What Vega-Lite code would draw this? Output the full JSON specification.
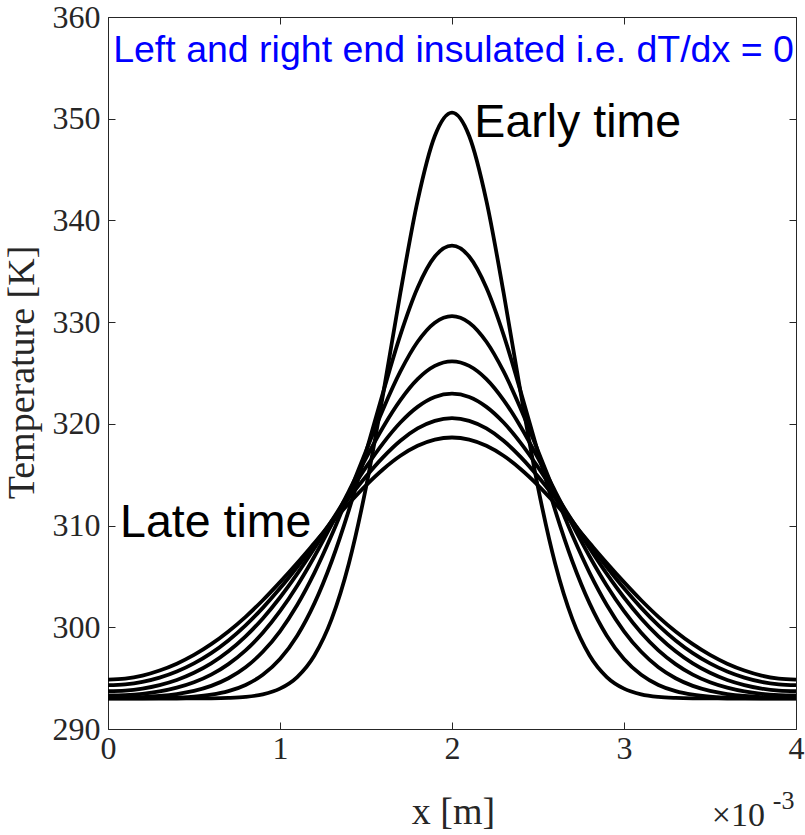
{
  "$schema": "https://vega.github.io/schema/vega-lite/v6.json",
  "width": 688,
  "height": 712,
  "autosize": {"type": "none"},
  "padding": {"left": 108, "top": 17, "right": 9, "bottom": 106},
  "background": "white",
  "config": {
    "view": {"stroke": "#262626", "strokeWidth": 1},
    "axis": {
      "domain": false,
      "grid": false,
      "tickColor": "#262626",
      "tickSize": -7,
      "tickWidth": 1,
      "labelColor": "#262626",
      "labelFont": "Liberation Serif",
      "labelFontSize": 32,
      "labelFlush": false,
      "labelOverlap": false,
      "titleColor": "#262626",
      "titleFont": "Liberation Serif",
      "titleFontSize": 38,
      "titleFontWeight": "normal"
    }
  },
  "datasets": {
    "curves": [
      {"c":0,"x":0.0,"T":293.00},{"c":0,"x":0.1,"T":293.00},{"c":0,"x":0.2,"T":293.00},{"c":0,"x":0.3,"T":293.00},{"c":0,"x":0.4,"T":293.00},{"c":0,"x":0.5,"T":293.01},{"c":0,"x":0.6,"T":293.02},{"c":0,"x":0.7,"T":293.06},{"c":0,"x":0.8,"T":293.16},{"c":0,"x":0.9,"T":293.41},{"c":0,"x":1.0,"T":293.97},{"c":0,"x":1.1,"T":295.11},{"c":0,"x":1.2,"T":297.23},{"c":0,"x":1.3,"T":300.80},{"c":0,"x":1.4,"T":306.25},{"c":0,"x":1.5,"T":313.76},{"c":0,"x":1.6,"T":322.98},{"c":0,"x":1.7,"T":332.89},{"c":0,"x":1.8,"T":341.93},{"c":0,"x":1.9,"T":348.30},{"c":0,"x":2.0,"T":350.60},
      {"c":0,"x":2.1,"T":348.30},{"c":0,"x":2.2,"T":341.93},{"c":0,"x":2.3,"T":332.89},{"c":0,"x":2.4,"T":322.98},{"c":0,"x":2.5,"T":313.76},{"c":0,"x":2.6,"T":306.25},{"c":0,"x":2.7,"T":300.80},{"c":0,"x":2.8,"T":297.23},{"c":0,"x":2.9,"T":295.11},{"c":0,"x":3.0,"T":293.97},{"c":0,"x":3.1,"T":293.41},{"c":0,"x":3.2,"T":293.16},{"c":0,"x":3.3,"T":293.06},{"c":0,"x":3.4,"T":293.02},{"c":0,"x":3.5,"T":293.01},{"c":0,"x":3.6,"T":293.00},{"c":0,"x":3.7,"T":293.00},{"c":0,"x":3.8,"T":293.00},{"c":0,"x":3.9,"T":293.00},{"c":0,"x":4.0,"T":293.00},

      {"c":1,"x":0.0,"T":293.01},{"c":1,"x":0.1,"T":293.01},{"c":1,"x":0.2,"T":293.02},{"c":1,"x":0.3,"T":293.04},{"c":1,"x":0.4,"T":293.09},{"c":1,"x":0.5,"T":293.18},{"c":1,"x":0.6,"T":293.37},{"c":1,"x":0.7,"T":293.72},{"c":1,"x":0.8,"T":294.33},{"c":1,"x":0.9,"T":295.33},{"c":1,"x":1.0,"T":296.88},{"c":1,"x":1.1,"T":299.17},{"c":1,"x":1.2,"T":302.35},{"c":1,"x":1.3,"T":306.47},{"c":1,"x":1.4,"T":311.50},{"c":1,"x":1.5,"T":317.20},{"c":1,"x":1.6,"T":323.13},{"c":1,"x":1.7,"T":328.75},{"c":1,"x":1.8,"T":333.38},{"c":1,"x":1.9,"T":336.45},{"c":1,"x":2.0,"T":337.52},
      {"c":1,"x":2.1,"T":336.45},{"c":1,"x":2.2,"T":333.38},{"c":1,"x":2.3,"T":328.75},{"c":1,"x":2.4,"T":323.13},{"c":1,"x":2.5,"T":317.20},{"c":1,"x":2.6,"T":311.50},{"c":1,"x":2.7,"T":306.47},{"c":1,"x":2.8,"T":302.35},{"c":1,"x":2.9,"T":299.17},{"c":1,"x":3.0,"T":296.88},{"c":1,"x":3.1,"T":295.33},{"c":1,"x":3.2,"T":294.33},{"c":1,"x":3.3,"T":293.72},{"c":1,"x":3.4,"T":293.37},{"c":1,"x":3.5,"T":293.18},{"c":1,"x":3.6,"T":293.09},{"c":1,"x":3.7,"T":293.04},{"c":1,"x":3.8,"T":293.02},{"c":1,"x":3.9,"T":293.01},{"c":1,"x":4.0,"T":293.01},

      {"c":2,"x":0.0,"T":293.07},{"c":2,"x":0.1,"T":293.09},{"c":2,"x":0.2,"T":293.14},{"c":2,"x":0.3,"T":293.25},{"c":2,"x":0.4,"T":293.44},{"c":2,"x":0.5,"T":293.75},{"c":2,"x":0.6,"T":294.24},{"c":2,"x":0.7,"T":294.99},{"c":2,"x":0.8,"T":296.07},{"c":2,"x":0.9,"T":297.59},{"c":2,"x":1.0,"T":299.61},{"c":2,"x":1.1,"T":302.19},{"c":2,"x":1.2,"T":305.35},{"c":2,"x":1.3,"T":309.04},{"c":2,"x":1.4,"T":313.10},{"c":2,"x":1.5,"T":317.34},{"c":2,"x":1.6,"T":321.47},{"c":2,"x":1.7,"T":325.15},{"c":2,"x":1.8,"T":328.07},{"c":2,"x":1.9,"T":329.95},{"c":2,"x":2.0,"T":330.60},
      {"c":2,"x":2.1,"T":329.95},{"c":2,"x":2.2,"T":328.07},{"c":2,"x":2.3,"T":325.15},{"c":2,"x":2.4,"T":321.47},{"c":2,"x":2.5,"T":317.34},{"c":2,"x":2.6,"T":313.10},{"c":2,"x":2.7,"T":309.04},{"c":2,"x":2.8,"T":305.35},{"c":2,"x":2.9,"T":302.19},{"c":2,"x":3.0,"T":299.61},{"c":2,"x":3.1,"T":297.59},{"c":2,"x":3.2,"T":296.07},{"c":2,"x":3.3,"T":294.99},{"c":2,"x":3.4,"T":294.24},{"c":2,"x":3.5,"T":293.75},{"c":2,"x":3.6,"T":293.44},{"c":2,"x":3.7,"T":293.25},{"c":2,"x":3.8,"T":293.14},{"c":2,"x":3.9,"T":293.09},{"c":2,"x":4.0,"T":293.07},

      {"c":3,"x":0.0,"T":293.30},{"c":3,"x":0.1,"T":293.34},{"c":3,"x":0.2,"T":293.46},{"c":3,"x":0.3,"T":293.69},{"c":3,"x":0.4,"T":294.06},{"c":3,"x":0.5,"T":294.59},{"c":3,"x":0.6,"T":295.34},{"c":3,"x":0.7,"T":296.38},{"c":3,"x":0.8,"T":297.73},{"c":3,"x":0.9,"T":299.46},{"c":3,"x":1.0,"T":301.58},{"c":3,"x":1.1,"T":304.09},{"c":3,"x":1.2,"T":306.96},{"c":3,"x":1.3,"T":310.09},{"c":3,"x":1.4,"T":313.37},{"c":3,"x":1.5,"T":316.64},{"c":3,"x":1.6,"T":319.70},{"c":3,"x":1.7,"T":322.34},{"c":3,"x":1.8,"T":324.40},{"c":3,"x":1.9,"T":325.70},{"c":3,"x":2.0,"T":326.14},
      {"c":3,"x":2.1,"T":325.70},{"c":3,"x":2.2,"T":324.40},{"c":3,"x":2.3,"T":322.34},{"c":3,"x":2.4,"T":319.70},{"c":3,"x":2.5,"T":316.64},{"c":3,"x":2.6,"T":313.37},{"c":3,"x":2.7,"T":310.09},{"c":3,"x":2.8,"T":306.96},{"c":3,"x":2.9,"T":304.09},{"c":3,"x":3.0,"T":301.58},{"c":3,"x":3.1,"T":299.46},{"c":3,"x":3.2,"T":297.73},{"c":3,"x":3.3,"T":296.38},{"c":3,"x":3.4,"T":295.34},{"c":3,"x":3.5,"T":294.59},{"c":3,"x":3.6,"T":294.06},{"c":3,"x":3.7,"T":293.69},{"c":3,"x":3.8,"T":293.46},{"c":3,"x":3.9,"T":293.34},{"c":3,"x":4.0,"T":293.30},

      {"c":4,"x":0.0,"T":293.72},{"c":4,"x":0.1,"T":293.78},{"c":4,"x":0.2,"T":293.98},{"c":4,"x":0.3,"T":294.32},{"c":4,"x":0.4,"T":294.82},{"c":4,"x":0.5,"T":295.53},{"c":4,"x":0.6,"T":296.45},{"c":4,"x":0.7,"T":297.64},{"c":4,"x":0.8,"T":299.11},{"c":4,"x":0.9,"T":300.87},{"c":4,"x":1.0,"T":302.93},{"c":4,"x":1.1,"T":305.25},{"c":4,"x":1.2,"T":307.78},{"c":4,"x":1.3,"T":310.44},{"c":4,"x":1.4,"T":313.13},{"c":4,"x":1.5,"T":315.74},{"c":4,"x":1.6,"T":318.11},{"c":4,"x":1.7,"T":320.13},{"c":4,"x":1.8,"T":321.67},{"c":4,"x":1.9,"T":322.64},{"c":4,"x":2.0,"T":322.97},
      {"c":4,"x":2.1,"T":322.64},{"c":4,"x":2.2,"T":321.67},{"c":4,"x":2.3,"T":320.13},{"c":4,"x":2.4,"T":318.11},{"c":4,"x":2.5,"T":315.74},{"c":4,"x":2.6,"T":313.13},{"c":4,"x":2.7,"T":310.44},{"c":4,"x":2.8,"T":307.78},{"c":4,"x":2.9,"T":305.25},{"c":4,"x":3.0,"T":302.93},{"c":4,"x":3.1,"T":300.87},{"c":4,"x":3.2,"T":299.11},{"c":4,"x":3.3,"T":297.64},{"c":4,"x":3.4,"T":296.45},{"c":4,"x":3.5,"T":295.53},{"c":4,"x":3.6,"T":294.82},{"c":4,"x":3.7,"T":294.32},{"c":4,"x":3.8,"T":293.98},{"c":4,"x":3.9,"T":293.78},{"c":4,"x":4.0,"T":293.72},

      {"c":5,"x":0.0,"T":294.31},{"c":5,"x":0.1,"T":294.39},{"c":5,"x":0.2,"T":294.63},{"c":5,"x":0.3,"T":295.05},{"c":5,"x":0.4,"T":295.65},{"c":5,"x":0.5,"T":296.45},{"c":5,"x":0.6,"T":297.46},{"c":5,"x":0.7,"T":298.71},{"c":5,"x":0.8,"T":300.19},{"c":5,"x":0.9,"T":301.91},{"c":5,"x":1.0,"T":303.83},{"c":5,"x":1.1,"T":305.93},{"c":5,"x":1.2,"T":308.15},{"c":5,"x":1.3,"T":310.43},{"c":5,"x":1.4,"T":312.69},{"c":5,"x":1.5,"T":314.82},{"c":5,"x":1.6,"T":316.73},{"c":5,"x":1.7,"T":318.34},{"c":5,"x":1.8,"T":319.55},{"c":5,"x":1.9,"T":320.30},{"c":5,"x":2.0,"T":320.56},
      {"c":5,"x":2.1,"T":320.30},{"c":5,"x":2.2,"T":319.55},{"c":5,"x":2.3,"T":318.34},{"c":5,"x":2.4,"T":316.73},{"c":5,"x":2.5,"T":314.82},{"c":5,"x":2.6,"T":312.69},{"c":5,"x":2.7,"T":310.43},{"c":5,"x":2.8,"T":308.15},{"c":5,"x":2.9,"T":305.93},{"c":5,"x":3.0,"T":303.83},{"c":5,"x":3.1,"T":301.91},{"c":5,"x":3.2,"T":300.19},{"c":5,"x":3.3,"T":298.71},{"c":5,"x":3.4,"T":297.46},{"c":5,"x":3.5,"T":296.45},{"c":5,"x":3.6,"T":295.65},{"c":5,"x":3.7,"T":295.05},{"c":5,"x":3.8,"T":294.63},{"c":5,"x":3.9,"T":294.39},{"c":5,"x":4.0,"T":294.31},

      {"c":6,"x":0.0,"T":294.85},{"c":6,"x":0.1,"T":294.95},{"c":6,"x":0.2,"T":295.25},{"c":6,"x":0.3,"T":295.75},{"c":6,"x":0.4,"T":296.42},{"c":6,"x":0.5,"T":297.28},{"c":6,"x":0.6,"T":298.34},{"c":6,"x":0.7,"T":299.59},{"c":6,"x":0.8,"T":301.03},{"c":6,"x":0.9,"T":302.66},{"c":6,"x":1.0,"T":304.44},{"c":6,"x":1.1,"T":306.32},{"c":6,"x":1.2,"T":308.28},{"c":6,"x":1.3,"T":310.26},{"c":6,"x":1.4,"T":312.17},{"c":6,"x":1.5,"T":313.96},{"c":6,"x":1.6,"T":315.54},{"c":6,"x":1.7,"T":316.86},{"c":6,"x":1.8,"T":317.84},{"c":6,"x":1.9,"T":318.45},{"c":6,"x":2.0,"T":318.66},
      {"c":6,"x":2.1,"T":318.45},{"c":6,"x":2.2,"T":317.84},{"c":6,"x":2.3,"T":316.86},{"c":6,"x":2.4,"T":315.54},{"c":6,"x":2.5,"T":313.96},{"c":6,"x":2.6,"T":312.17},{"c":6,"x":2.7,"T":310.26},{"c":6,"x":2.8,"T":308.28},{"c":6,"x":2.9,"T":306.32},{"c":6,"x":3.0,"T":304.44},{"c":6,"x":3.1,"T":302.66},{"c":6,"x":3.2,"T":301.03},{"c":6,"x":3.3,"T":299.59},{"c":6,"x":3.4,"T":298.34},{"c":6,"x":3.5,"T":297.28},{"c":6,"x":3.6,"T":296.42},{"c":6,"x":3.7,"T":295.75},{"c":6,"x":3.8,"T":295.25},{"c":6,"x":3.9,"T":294.95},{"c":6,"x":4.0,"T":294.85}
    ]
  },
  "layer": [
    {
      "data": {"name": "curves"},
      "mark": {"type": "line", "color": "black", "strokeWidth": 3.8, "interpolate": "monotone", "clip": true},
      "encoding": {
        "x": {
          "field": "x", "type": "quantitative",
          "scale": {"domain": [0, 4], "nice": false, "zero": false},
          "axis": {
            "orient": "bottom", "values": [0, 1, 2, 3, 4], "format": "d",
            "labelPadding": 11,
            "title": "x [m]", "titleX": 345, "titleY": 94, "titleBaseline": "alphabetic", "titleAlign": "center", "titleAnchor": null
          }
        },
        "y": {
          "field": "T", "type": "quantitative",
          "scale": {"domain": [290, 360], "nice": false, "zero": false},
          "axis": {
            "orient": "left", "values": [290, 300, 310, 320, 330, 340, 350, 360], "format": "d",
            "labelPadding": 15,
            "title": "Temperature [K]", "titleX": -86, "titleY": 355, "titleAngle": 270, "titleBaseline": "middle", "titleAlign": "center", "titleAnchor": null
          }
        },
        "detail": {"field": "c", "type": "nominal"}
      }
    },
    {
      "data": {"name": "curves"},
      "mark": {"type": "point", "opacity": 0},
      "encoding": {
        "x": {
          "field": "x", "type": "quantitative",
          "axis": {"orient": "top", "values": [0, 1, 2, 3, 4], "labels": false, "title": null}
        },
        "y": {
          "field": "T", "type": "quantitative",
          "axis": {"orient": "right", "values": [290, 300, 310, 320, 330, 340, 350, 360], "labels": false, "title": null}
        }
      }
    },
    {
      "data": {"values": [{"label": "Left and right end insulated i.e. dT/dx = 0", "x": 0.03, "T": 355.6}]},
      "mark": {"type": "text", "font": "Liberation Sans", "fontSize": 37.5, "color": "#0000FF", "align": "left", "baseline": "alphabetic"},
      "encoding": {
        "x": {"field": "x", "type": "quantitative", "axis": null},
        "y": {"field": "T", "type": "quantitative", "axis": null},
        "text": {"field": "label"}
      }
    },
    {
      "data": {"values": [{"label": "Early time", "x": 2.13, "T": 348.2}, {"label": "Late time", "x": 0.07, "T": 308.88}]},
      "mark": {"type": "text", "font": "Liberation Sans", "fontSize": 46.5, "color": "black", "align": "left", "baseline": "alphabetic"},
      "encoding": {
        "x": {"field": "x", "type": "quantitative", "axis": null},
        "y": {"field": "T", "type": "quantitative", "axis": null},
        "text": {"field": "label"}
      }
    },
    {
      "data": {"values": [{"label": "×10", "x": 3.51, "T": 280.5}]},
      "mark": {"type": "text", "font": "Liberation Serif", "fontSize": 34, "color": "#262626", "align": "left", "baseline": "alphabetic"},
      "encoding": {
        "x": {"field": "x", "type": "quantitative", "axis": null},
        "y": {"field": "T", "type": "quantitative", "axis": null},
        "text": {"field": "label"}
      }
    },
    {
      "data": {"values": [{"label": "-3", "x": 3.865, "T": 282.1}]},
      "mark": {"type": "text", "font": "Liberation Serif", "fontSize": 26, "color": "#262626", "align": "left", "baseline": "alphabetic"},
      "encoding": {
        "x": {"field": "x", "type": "quantitative", "axis": null},
        "y": {"field": "T", "type": "quantitative", "axis": null},
        "text": {"field": "label"}
      }
    }
  ],
  "resolve": {"axis": {"x": "independent", "y": "independent"}}
}
